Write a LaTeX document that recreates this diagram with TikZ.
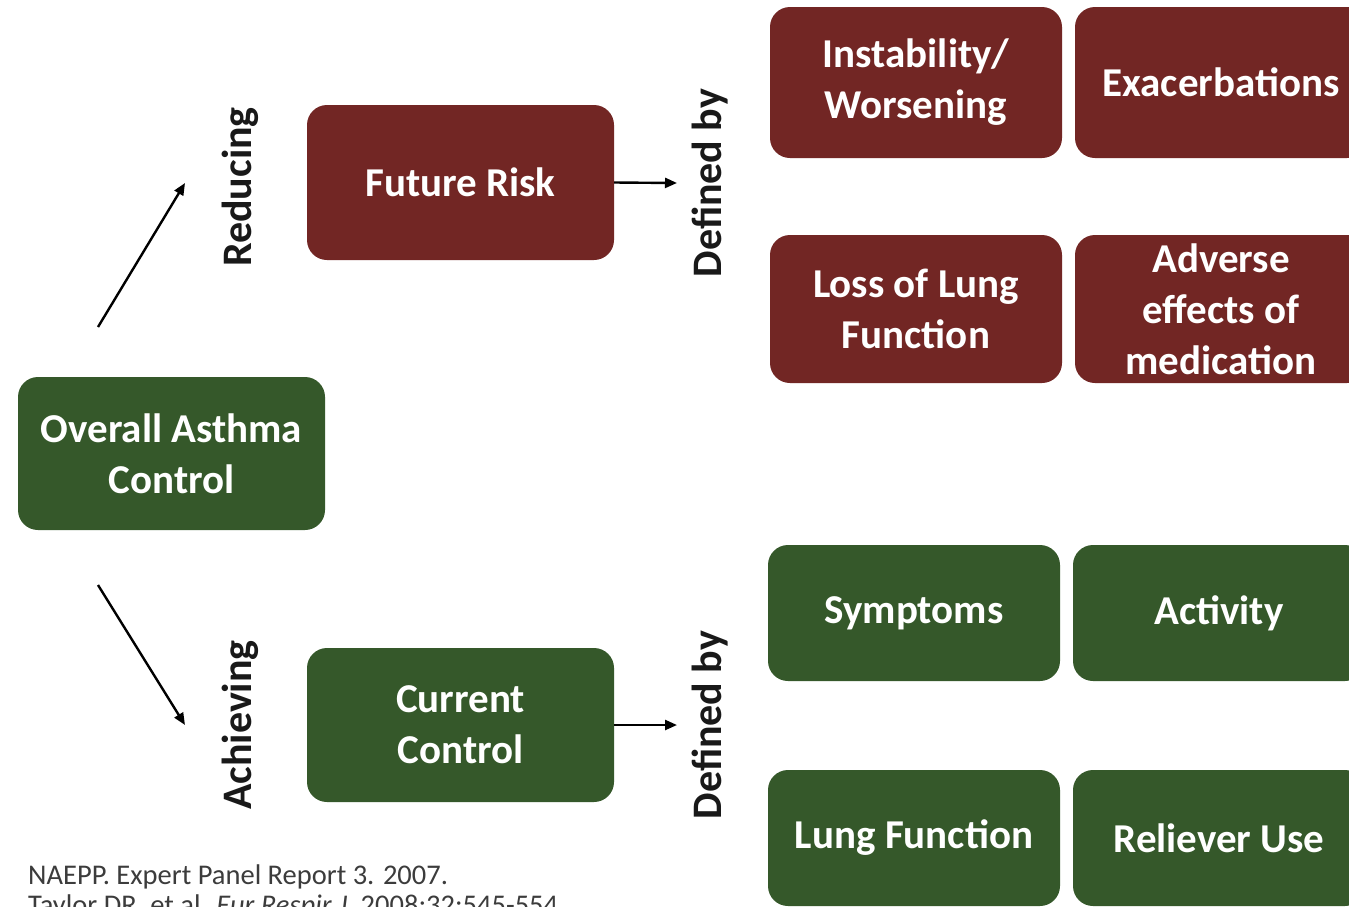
\documentclass[tikz,border=0pt]{standalone}
\usepackage{fontspec}
\setmainfont{Carlito}
\usetikzlibrary{arrows.meta}
\definecolor{riskred}{RGB}{114,38,36}
\definecolor{ctrlgreen}{RGB}{53,88,42}
\definecolor{notegray}{RGB}{60,60,60}
\begin{document}
\begin{tikzpicture}[x=1pt,y=-1pt,
  box/.style={rounded corners=20pt,text=white,align=center,inner sep=0pt,font=\fontsize{41}{51}\selectfont\bfseries},
  riskbox/.style={box,fill=riskred},
  ctrlbox/.style={box,fill=ctrlgreen},
  sidelabel/.style={rotate=90,font=\fontsize{42}{48}\selectfont\bfseries,text=black!90},
  link/.style={line width=2.4pt,-{Triangle[length=12pt,width=10pt]}}]
\useasboundingbox[fill=white] (0,0) rectangle (1349,906);
% left side
\node[ctrlbox,minimum width=307pt,minimum height=153pt] (overall) at (171.5,453.5) {Overall Asthma\\Control};
\node[riskbox,minimum width=307pt,minimum height=155pt] (future) at (460.5,182.5) {Future Risk};
\node[ctrlbox,minimum width=307pt,minimum height=154pt] (current) at (460.5,725) {Current\\Control};
\node[sidelabel] (reducing) at (240,187) {Reducing};
\node[sidelabel] (achieving) at (240,725) {Achieving};
\node[sidelabel] (defrisk) at (710,183) {Defined by};
\node[sidelabel] (defctrl) at (710,725) {Defined by};
\coordinate (upfrom) at (98,327);
\coordinate (upto) at (185,183);
\coordinate (downfrom) at (98,585);
\coordinate (downto) at (185,725);
\coordinate (riskend) at (677,183);
\coordinate (ctrlend) at (677,725);
\draw[link] (upfrom) -- (upto);
\draw[link] (downfrom) -- (downto);
\draw[link] (future.east) -- (riskend);
\draw[link] (current.east) -- (ctrlend);
% right side
\node[riskbox,minimum width=292pt,minimum height=151pt] (instab) at (916,82.5) {Instability/\\Worsening};
\node[riskbox,minimum width=292pt,minimum height=151pt] (exacerb) at (1221,82.5) {Exacerbations};
\node[riskbox,minimum width=292pt,minimum height=148pt] (lossfn) at (916,309) {Loss of Lung\\Function};
\node[riskbox,minimum width=292pt,minimum height=148pt] (adverse) at (1221,309) {Adverse\\effects of\\medication};
\node[ctrlbox,minimum width=292pt,minimum height=136pt] (symptoms) at (914,613) {Symptoms};
\node[ctrlbox,minimum width=292pt,minimum height=136pt] (activity) at (1219,613) {Activity};
\node[ctrlbox,minimum width=292pt,minimum height=136pt] (lungfn) at (914,838) {Lung Function};
\node[ctrlbox,minimum width=292pt,minimum height=136pt] (reliever) at (1219,838) {Reliever Use};
% references
\node[anchor=base west,align=left,inner sep=0pt,text=notegray,font=\fontsize{28.5}{30}\selectfont] (refs) at (28,914)
  {NAEPP. Expert Panel Report 3. 2007.\\Taylor DR, et al. \textit{Eur Respir J}. 2008;32:545-554.};
\end{tikzpicture}
\end{document}
